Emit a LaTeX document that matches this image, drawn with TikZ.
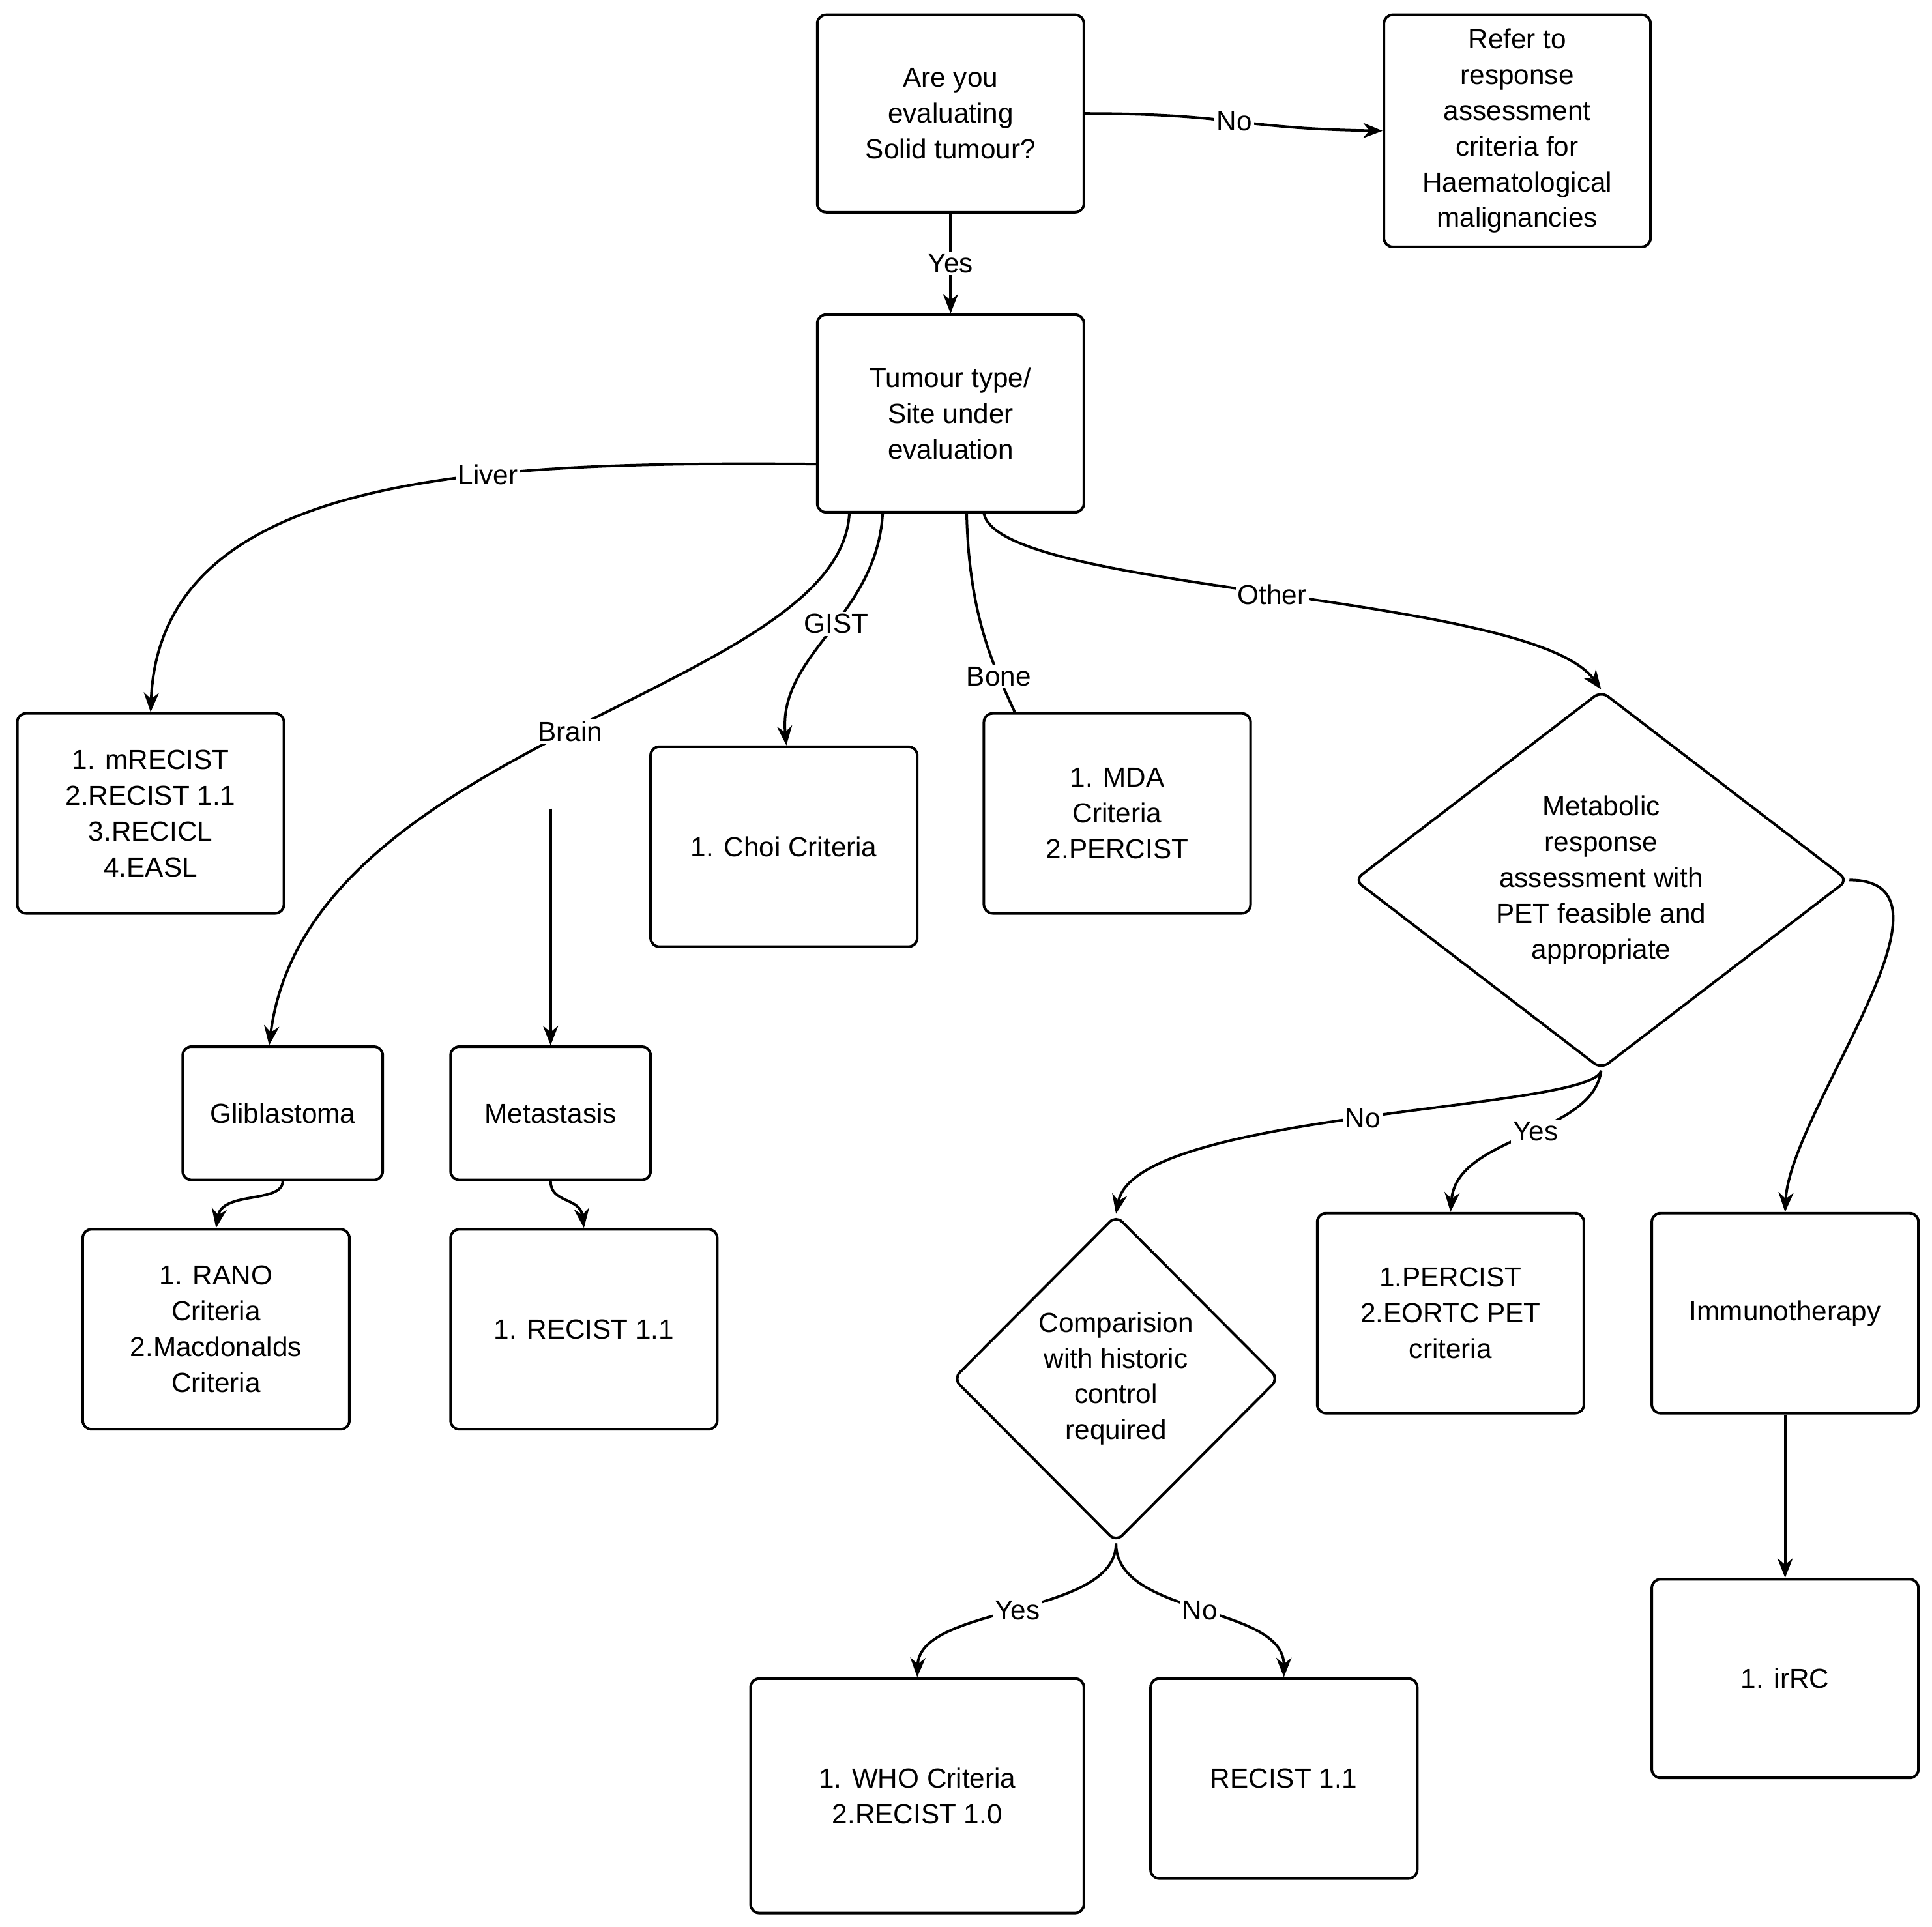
\documentclass[tikz,border=0pt]{standalone}
\usepackage{fontspec}
\setmainfont{Liberation Sans}
\usetikzlibrary{shapes.geometric,arrows.meta}
\begin{document}
\begin{tikzpicture}[x=0.02cm,y=-0.02cm,
  every node/.style={font=\fontsize{12.7}{16.5}\selectfont},
  box/.style={draw,line width=1.2pt,rounded corners=4pt,align=center,inner sep=0pt},
  dia/.style={draw,line width=1.2pt,diamond,align=center,inner sep=0pt,rounded corners=4pt},
  ar/.style={line width=1.2pt,-{Stealth[length=9pt,width=7pt]}},
  ln/.style={line width=1.2pt},
  lab/.style={fill=white,inner sep=1pt}]
\useasboundingbox (0,0) rectangle (1565,1561);
\node[box,minimum width=216*0.02cm,minimum height=160*0.02cm] (q1) at (770,92) {Are you\\evaluating\\Solid tumour?};
\node[box,minimum width=216*0.02cm,minimum height=188*0.02cm] (refer) at (1229,106) {Refer to\\response\\assessment\\criteria for\\Haematological\\malignancies};
\node[box,minimum width=216*0.02cm,minimum height=160*0.02cm] (tum) at (770,335) {Tumour type/\\Site under\\evaluation};
\node[box,minimum width=216*0.02cm,minimum height=162*0.02cm] (liver) at (122,659) {1. mRECIST\\2.RECIST 1.1\\3.RECICL\\4.EASL};
\node[box,minimum width=216*0.02cm,minimum height=162*0.02cm] (choi) at (635,686) {1. Choi Criteria};
\node[box,minimum width=216*0.02cm,minimum height=162*0.02cm] (mda) at (905,659) {1. MDA\\Criteria\\2.PERCIST};
\node[dia,minimum width=400*0.02cm,minimum height=266*0.02cm] (met) at (1297,713) {Metabolic\\response\\assessment with\\PET feasible and\\appropriate};
\node[box,minimum width=162*0.02cm,minimum height=108*0.02cm] (gli) at (229,902) {Gliblastoma};
\node[box,minimum width=162*0.02cm,minimum height=108*0.02cm] (meta) at (446,902) {Metastasis};
\node[box,minimum width=216*0.02cm,minimum height=162*0.02cm] (rano) at (175,1077) {1. RANO\\Criteria\\2.Macdonalds\\Criteria};
\node[box,minimum width=216*0.02cm,minimum height=162*0.02cm] (rl) at (473,1077) {1. RECIST 1.1};
\node[dia,minimum width=264*0.02cm,minimum height=265*0.02cm] (cmp) at (904,1117) {Comparision\\with historic\\control\\required};
\node[box,minimum width=216*0.02cm,minimum height=162*0.02cm] (perc) at (1175,1064) {1.PERCIST\\2.EORTC PET\\criteria};
\node[box,minimum width=216*0.02cm,minimum height=162*0.02cm] (imm) at (1446,1064) {Immunotherapy};
\node[box,minimum width=216*0.02cm,minimum height=161*0.02cm] (irrc) at (1446,1360) {1. irRC};
\node[box,minimum width=270*0.02cm,minimum height=190*0.02cm] (who) at (743,1455) {1. WHO Criteria\\2.RECIST 1.0};
\node[box,minimum width=216*0.02cm,minimum height=162*0.02cm] (rb) at (1040,1441) {RECIST 1.1};
\coordinate (brainsrc) at (446,655);
% connectors
\draw[ar] (q1.east) .. controls (1000,92) and (1000,104) .. node[lab]{No} (refer.west);
\draw[ar] (q1.south) -- node[lab]{Yes} (tum.north);
\draw[ar] (tum.west |- 0,376) .. controls (400,374) and (130,380) .. node[lab,pos=0.35]{Liver} (liver.north);
\draw[ar] (tum.south -| 715,0) .. controls (710,500) and (630,530) .. node[lab,pos=0.45]{GIST} (choi.north -| 637,0);
\draw[ar] (tum.south -| 688,0) .. controls (680,560) and (250,600) .. node[lab,pos=0.5]{Brain} (gli.north -| 218,0);
\draw[ar] (brainsrc) -- (meta.north);
\draw[ln] (tum.south -| 783,0) .. controls (785,500) and (805,540) .. node[lab,pos=0.75]{Bone} (mda.north -| 822,0);
\draw[ar] (tum.south -| 797,0) .. controls (810,480) and (1240,480) .. node[lab,pos=0.5]{Other} (met.north);
\draw[ar] (met.south) .. controls (1290,900) and (920,900) .. node[lab,pos=0.5]{No} (cmp.north);
\draw[ar] (met.south) .. controls (1290,920) and (1180,920) .. node[lab,pos=0.45]{Yes} (perc.north);
\draw[ar] (met.east) .. controls (1600,713) and (1450,900) .. (imm.north);
\draw[ar] (gli.south) .. controls (229,975) and (180,965) .. (rano.north);
\draw[ar] (meta.south) .. controls (446,975) and (470,970) .. (rl.north);
\draw[ar] (imm.south) -- (irrc.north);
\draw[ar] (cmp.south) .. controls (904,1310) and (745,1300) .. node[lab,pos=0.5]{Yes} (who.north);
\draw[ar] (cmp.south) .. controls (904,1310) and (1040,1300) .. node[lab,pos=0.5]{No} (rb.north);
\end{tikzpicture}
\end{document}
